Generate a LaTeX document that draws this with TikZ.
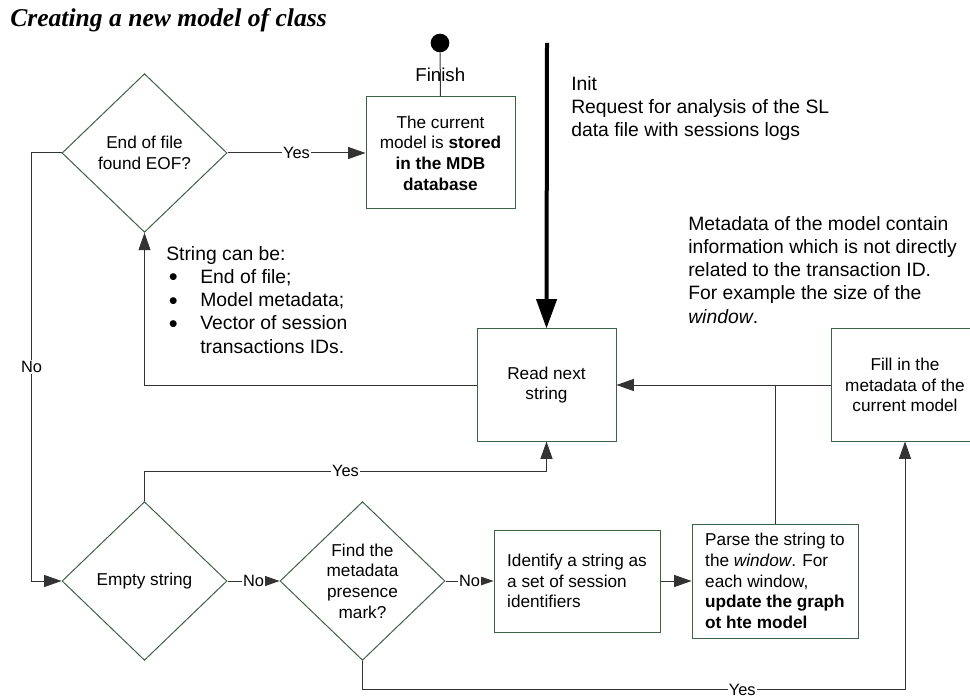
\documentclass[tikz,border=0pt]{standalone}
\usepackage{fontspec}
\setmainfont{Liberation Sans}
\newfontfamily\titlefont{Liberation Serif}
\usetikzlibrary{shapes.geometric,arrows.meta}
\definecolor{boxgreen}{RGB}{60,98,70}
\newcommand{\bigbullet}{\smash{\raisebox{-1.8pt}{\fontsize{19}{19}\selectfont\textbullet}}}
\begin{document}
\begin{tikzpicture}[x=0.75pt,y=-0.75pt]
\tikzstyle{box}=[rectangle,draw=boxgreen,line width=0.75pt,inner sep=0pt,align=center,font=\fontsize{12.9}{15.5}\selectfont]
\tikzstyle{decision}=[diamond,draw=boxgreen,line width=0.75pt,inner sep=0pt,minimum width=123.75pt,minimum height=119pt,align=center,font=\fontsize{12.9}{15.5}\selectfont]
\tikzstyle{line}=[draw=black!80,line width=0.75pt]
\tikzstyle{flow}=[line,-{Triangle[length=13pt,width=9pt]}]
\tikzstyle{answer}=[fill=white,inner sep=1pt,font=\fontsize{12.3}{14}\selectfont]
\tikzstyle{note}=[align=left,inner sep=0pt,font=\fontsize{14.5}{17.4}\selectfont]

\useasboundingbox (0,0) rectangle (970,698);

\node[anchor=base west,inner sep=0pt,font={\titlefont\fontsize{19.2}{23}\selectfont\bfseries\itshape}] (title) at (10,27) {Creating a new model of class};

\node[circle,fill=black,inner sep=0pt,minimum size=14pt] (dot) at (440,43) {};
\node[box,minimum width=111.75pt,minimum height=84pt] (store) at (440.5,153) {The current\\model is \textbf{stored}\\\textbf{in the MDB}\\\textbf{database}};
\node[decision] (eof) at (144.5,153) {End of file\\found EOF?};
\node[box,minimum width=104.25pt,minimum height=84pt] (read) at (546.5,385) {Read next\\string};
\node[box,minimum width=111pt,minimum height=84pt] (fill) at (905,385) {Fill in the\\metadata of the\\current model};
\node[decision] (empty) at (144.5,581) {Empty string};
\node[decision] (find) at (362.5,581) {Find the\\metadata\\presence\\mark?};
\node[box,align=left,minimum width=124.5pt,minimum height=76.5pt] (ident) at (577,581) {Identify a string as\\a set of session\\identifiers};
\node[box,align=left,minimum width=124.5pt,minimum height=85.5pt] (parse) at (775,581) {Parse the string to\\the \textit{window}. For\\each window,\\\textbf{update the graph}\\\textbf{ot hte model}};

\node[note,anchor=north west] (init) at (571,76) {Init\\Request for analysis of the SL\\data file with sessions logs};
\node[note,anchor=north west] (meta) at (688,216) {Metadata of the model contain\\information which is not directly\\related to the transaction ID.\\For example the size of the\\\textit{window}.};
\node[note,anchor=north west] (kinds) at (166,246) {String can be:\\
\hspace*{2pt}\makebox[23.5pt][l]{\bigbullet}End of file;\\
\hspace*{2pt}\makebox[23.5pt][l]{\bigbullet}Model metadata;\\
\hspace*{2pt}\makebox[23.5pt][l]{\bigbullet}Vector of session\\
\hspace*{25.5pt}transactions IDs.};

\coordinate (start) at (547,43);

\draw[line] (store.north) -- node[inner sep=0pt,font=\fontsize{14}{16}\selectfont] {Finish} (dot);
\draw[line width=3pt,-{Triangle[length=22pt,width=15pt]}] (start) -- (read.north);
\draw[flow] (eof.east) -- node[answer] {Yes} (store.west);
\draw[flow] (eof.west) -- ++(-30,0) |- node[answer,pos=0.25] {No} (empty.west);
\draw[flow] (read.west) -| (eof.south);
\draw[flow] (empty.north) -- ++(0,-30) -| node[answer,pos=0.25] {Yes} (read.south);
\draw[flow] (empty.east) -- node[answer] {No} (find.west);
\draw[flow] (find.east) -- node[answer] {No} (ident.west);
\draw[flow] (ident.east) -- (parse.west);
\draw[flow] (find.south) -- ++(0,29) -| node[answer,pos=0.35] {Yes} (fill.south);
\draw[flow] (fill.west) -- (read.east);
\draw[line] (parse.north) -- (parse.north |- fill.west);

\end{tikzpicture}
\end{document}
